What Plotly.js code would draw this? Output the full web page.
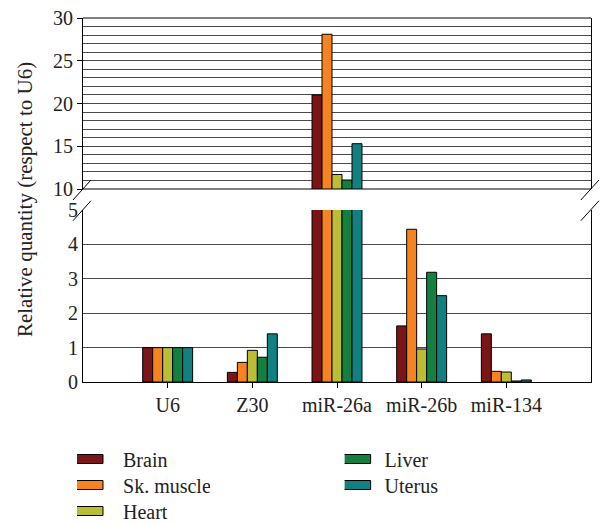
<!DOCTYPE html>
<html>
<head>
<meta charset="utf-8">
<script src="https://cdn.plot.ly/plotly-3.0.1.min.js"></script>
<style>html,body{margin:0;padding:0;background:#fff;}#chart{width:602px;height:523px;}</style>
</head>
<body>
<div id="chart"></div>
<script>
// ---- data ----
const categories = ['U6', 'Z30', 'miR-26a', 'miR-26b', 'miR-134'];
const brain     = [1, 0.28, 21.0, 1.63, 1.40];
const skMuscle  = [1, 0.57, 28.1, 4.44, 0.31];
const heart     = [1, 0.92, 11.7, 0.96, 0.29];
const liver     = [1, 0.72, 11.05, 3.19, 0.03];
const uterus    = [1, 1.40, 15.3, 2.51, 0.06];
const seriesNames = ['Brain', 'Sk. muscle', 'Heart', 'Liver', 'Uterus'];
const seriesValues = [brain, skMuscle, heart, liver, uterus];
const seriesColors = ['#7b1517', '#f6831f', '#bbbd35', '#148040', '#108080'];
const legendOf = ['legend', 'legend', 'legend', 'legend2', 'legend2'];

const FONT = "'Liberation Serif', 'DejaVu Serif', serif";
const FS = 20;
const traces = [];
seriesNames.forEach((name, i) => {
  // lower panel (0-5)
  traces.push({
    type: 'bar', name: name, x: categories, y: seriesValues[i],
    xaxis: 'x', yaxis: 'y', legend: legendOf[i],
    marker: {color: seriesColors[i], line: {color: '#000', width: 1}},
    showlegend: true, hoverinfo: 'skip'
  });
});
seriesNames.forEach((name, i) => {
  // upper panel (10-30)
  traces.push({
    type: 'bar', name: name, x: categories, y: seriesValues[i],
    xaxis: 'x', yaxis: 'y2',
    marker: {color: seriesColors[i], line: {color: '#000', width: 1}},
    showlegend: false, hoverinfo: 'skip'
  });
});

const gridC = '#4a4a4a';
const lineC = '#000';
function slash(x0, y0, x1, y1) {
  return {type: 'line', xref: 'paper', yref: 'paper', x0: x0, y0: y0, x1: x1, y1: y1,
          line: {color: '#000', width: 1}, layer: 'above'};
}
const legFont = {family: FONT, size: 20, color: '#222'};
const layout = {
  width: 602, height: 523,
  margin: {l: 83, r: 11, t: 18, b: 141, autoexpand: false},
  paper_bgcolor: '#fff', plot_bgcolor: 'rgba(0,0,0,0)',
  font: {family: FONT, size: FS, color: '#222'},
  barmode: 'group', bargap: 0.41, bargroupgap: 0,
  showlegend: true,
  xaxis: {
    type: 'category', range: [-1, 5], anchor: 'y',
    showline: true, linecolor: lineC, linewidth: 1,
    ticks: 'outside', ticklen: 5, tickcolor: lineC,
    showgrid: false, zeroline: false,
    tickfont: {family: FONT, size: FS, color: '#222'}
  },
  yaxis: {
    domain: [0, 0.4725], range: [0, 5], dtick: 1,
    showline: true, mirror: true, linecolor: lineC, linewidth: 1,
    ticks: '', showgrid: true, gridcolor: gridC, gridwidth: 1, zeroline: false,
    tickfont: {family: FONT, size: FS, color: '#222'}
  },
  yaxis2: {
    domain: [0.5302, 1], range: [10, 30], dtick: 5, anchor: 'x',
    showline: true, mirror: true, linecolor: lineC, linewidth: 1,
    ticks: 'outside', ticklen: 5, tickcolor: lineC,
    showgrid: true, gridcolor: gridC, gridwidth: 1, zeroline: false,
    minor: {dtick: 1, showgrid: true, gridcolor: gridC, gridwidth: 1},
    tickfont: {family: FONT, size: FS, color: '#222'}
  },
  legend: {
    x: -0.0118, y: -0.158, xanchor: 'left', yanchor: 'top', orientation: 'v',
    font: legFont, bgcolor: 'rgba(0,0,0,0)',
    traceorder: 'normal', itemclick: false
  },
  legend2: {
    x: 0.515, y: -0.158, xanchor: 'left', yanchor: 'top', orientation: 'v',
    font: legFont, bgcolor: 'rgba(0,0,0,0)',
    traceorder: 'normal', itemclick: false
  },
  annotations: [{
    text: 'Relative quantity (respect to U6)', textangle: -90,
    xref: 'paper', yref: 'paper', x: -0.114, y: 0.5,
    xanchor: 'center', yanchor: 'middle', showarrow: false,
    font: {family: FONT, size: 21, color: '#222'}
  }],
  shapes: [
    {type: 'line', xref: 'paper', yref: 'paper', x0: 0, x1: 1, y0: 1, y1: 1, line: {color: lineC, width: 1}},
    {type: 'line', xref: 'paper', yref: 'paper', x0: 0, x1: 1, y0: 0.5302, y1: 0.5302, line: {color: lineC, width: 1}},
    slash(-0.0197, 0.5, 0.0157, 0.555),
    slash(-0.0197, 0.443, 0.0157, 0.498),
    slash(0.980, 0.5, 1.0157, 0.555),
    slash(0.980, 0.443, 1.0157, 0.498)
  ]
};

Plotly.newPlot('chart', traces, layout, {staticPlot: true, displayModeBar: false}).then(() => {
  document.querySelectorAll('.legendpoints path').forEach(p => {
    p.setAttribute('d', 'M6,4.5H-26V-4.5H6Z');
  });
  document.querySelectorAll('text.legendtext').forEach(t => {
    const x = parseFloat(t.getAttribute('x') || '40');
    t.setAttribute('x', x + 6);
  });
  // tighten legend row spacing to 26px
  document.querySelectorAll('.scrollbox').forEach(box => {
    const items = box.querySelectorAll('g.traces');
    if (!items.length) return;
    const m = /translate\(\s*([-\d.]+)[ ,]+([-\d.]+)\s*\)/.exec(items[0].getAttribute('transform') || '');
    if (!m) return;
    const tx = parseFloat(m[1]), ty = parseFloat(m[2]);
    items.forEach((g, i) => g.setAttribute('transform', 'translate(' + tx + ',' + (ty + i * 26) + ')'));
  });
});
</script>
</body>
</html>
